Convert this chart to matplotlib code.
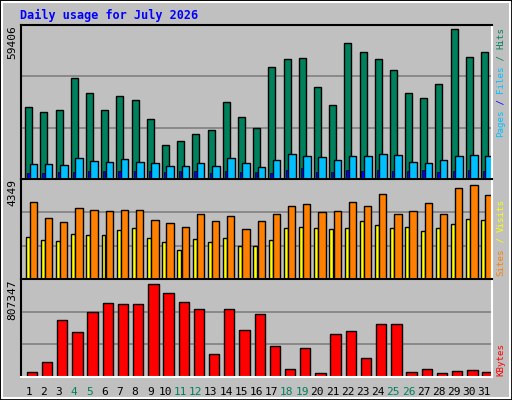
import numpy as np
import matplotlib.pyplot as plt
from matplotlib.patches import Rectangle

days = np.arange(1, 32)
weekend = [4, 5, 11, 12, 18, 19, 25, 26]

hits = [27958, 26016, 26793, 38830, 33006, 26793, 31841, 30288, 23298, 13202,
        14755, 17474, 19027, 29511, 24075, 19803, 43101, 46208, 46596, 35335,
        28734, 52421, 48926, 46208, 41936, 33006, 31064, 36500, 57857, 46984, 48926]
files = [5820, 5820, 5430, 8150, 6990, 6600, 7760, 6600, 6210, 5050,
         5050, 6210, 5050, 8150, 6210, 4660, 7380, 9710, 8930, 8540,
         7380, 8930, 8930, 9710, 9320, 6600, 6210, 7380, 8930, 9320, 8930]
pages = [2300, 2300, 2700, 2700, 3100, 3100, 3100, 3100, 3100, 2700,
         3100, 3100, 2300, 3100, 2700, 2700, 2300, 3500, 4300, 2700,
         2700, 3500, 3100, 3500, 3100, 3100, 3500, 2700, 3100, 3500, 3100]
visits = [3364, 2659, 2483, 3100, 3011, 2967, 3011, 3011, 2571, 2439,
          2262, 2835, 2527, 2747, 2174, 2527, 2835, 3188, 3276, 2923,
          2967, 3364, 3188, 3717, 2835, 2967, 3320, 2835, 3937, 4069, 3673]
sites = [1822, 1689, 1645, 1954, 1910, 1910, 2130, 2218, 1778, 1601,
         1249, 1733, 1601, 1778, 1425, 1425, 1689, 2218, 2262, 2218,
         2174, 2218, 2527, 2350, 2218, 2262, 2086, 2218, 2395, 2615, 2571]
kbytes = [44700, 120100, 472100, 371500, 539200, 606200, 597800, 597800, 765400, 690000,
          614600, 564300, 187200, 564300, 388300, 522400, 254200, 69800, 237500, 36300,
          354800, 379900, 153600, 438600, 438600, 44700, 69800, 36300, 53100, 61500, 44700]
max_hits, max_visits, max_kb = 59406, 4349, 807347

W, H = 512, 400
fig = plt.figure(figsize=(W / 100, H / 100), dpi=100)
fig.patch.set_facecolor('#C0C0C0')
fig.patches.append(Rectangle((0, 0), 1, 1, transform=fig.transFigure, fill=False,
                             edgecolor='black', lw=2))
fig.patches.append(Rectangle((2 / W, 2 / H), 1 - 4 / W, 1 - 4 / H, transform=fig.transFigure,
                             fill=False, edgecolor='white', lw=1.5))

def px_axes(x0, y0, x1, y1):
    return fig.add_axes([x0 / W, 1 - y1 / H, (x1 - x0) / W, (y1 - y0) / H])

def style(ax, top):
    ax.set_facecolor('#C0C0C0')
    ax.set_xlim(0.5, 31.5)
    ax.set_ylim(0, top)
    for v in (top / 3, 2 * top / 3):
        ax.axhline(v, color='#808080', lw=1.2, zorder=0)
    ax.set_xticks([])
    ax.set_yticks([])
    for s in ('top', 'left'):
        ax.spines[s].set_color('black')
    for s in ('bottom', 'right'):
        ax.spines[s].set_color('white')
    for s in ax.spines.values():
        s.set_linewidth(1.5)

mono = 'DejaVu Sans Mono'
kw = dict(edgecolor='black', linewidth=1, align='edge')

ax1 = px_axes(21, 25, 492, 179)
style(ax1, max_hits)
ax1.bar(days - 0.22, hits, 0.46, color='#00805C', **kw)
ax1.bar(days + 0.07, files, 0.5, color='#00C0FF', **kw)
ax1.bar(days - 0.09, pages, 0.15, color='#0000FF', edgecolor='black', linewidth=0.5, align='edge')

ax2 = px_axes(21, 179, 492, 279)
style(ax2, max_visits)
ax2.bar(days - 0.2, sites, 0.26, color='#FFFF00', **kw)
ax2.bar(days + 0.07, visits, 0.48, color='#FF8000', **kw)

ax3 = px_axes(21, 279, 492, 377)
style(ax3, max_kb)
ax3.bar(days - 0.13, kbytes, 0.68, color='#FF0000', **kw)

for d in days:
    ax3.text(d, -0.1, str(d), transform=ax3.get_xaxis_transform(), ha='center', va='top',
             family=mono, fontsize=8, color='#00805C' if d in weekend else 'black')

fig.text(20 / W, 1 - 15 / H, 'Daily usage for July 2026', family=mono, fontsize=8.5,
         fontweight='bold', color='#0000FF', va='center')

for ax, m in ((ax1, max_hits), (ax2, max_visits), (ax3, max_kb)):
    ax.text(-0.008, 1.0, str(m), transform=ax.transAxes, rotation=90, ha='right', va='top',
            family=mono, fontsize=8)

def right_label(pieces, y_bottom):
    fig.canvas.draw()
    r = fig.canvas.get_renderer()
    y = y_bottom
    for txt, col in pieces:
        t = fig.text(501 / W, 1 - y / H, txt, rotation=90, ha='center', va='bottom',
                     family=mono, fontsize=6.6, color=col)
        bb = t.get_window_extent(r)
        y -= bb.height

right_label([('Pages', '#00C0FF'), (' / ', '#0000FF'), ('Files', '#00C0FF'),
             (' / ', '#00805C'), ('Hits', '#00805C')], 137)
right_label([('Sites', '#FF8000'), (' / ', '#FFFF00'), ('Visits', '#FFFF00')], 276)
right_label([('KBytes', '#FF0000')], 376)

fig.savefig('out.png', dpi=100, facecolor=fig.get_facecolor())
